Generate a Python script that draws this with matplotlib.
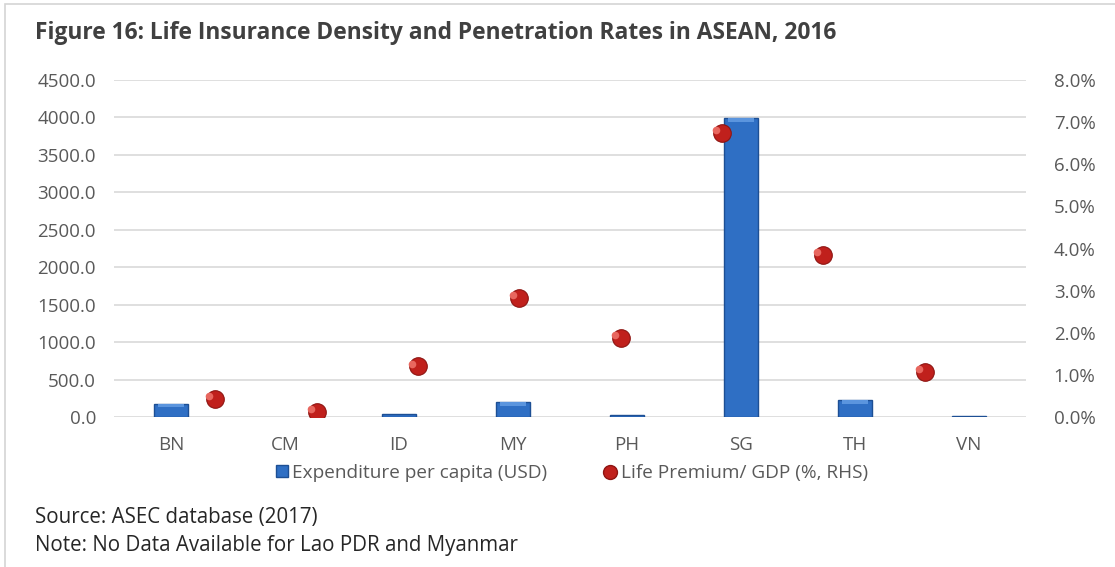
import matplotlib.pyplot as plt
import matplotlib.patches as mpatches
from matplotlib.lines import Line2D
import numpy as np

plt.rcParams['font.family'] = ['Open Sans', 'DejaVu Sans']

countries = ['BN', 'CM', 'ID', 'MY', 'PH', 'SG', 'TH', 'VN']
expenditure = [175, 0, 45, 200, 30, 3995, 225, 10]          # USD per capita
premium_gdp = [0.43, 0.12, 1.21, 2.83, 1.88, 6.75, 3.85, 1.07]  # % of GDP

left_ticks = np.arange(0, 4501, 500)
right_ticks = np.arange(0, 8.01, 1.0)

fig = plt.figure(figsize=(11.15, 5.67), dpi=100)
fig.patch.set_facecolor('white')

# light frame around the figure box
fig.add_artist(mpatches.Rectangle((5 / 1115, -0.1), 1.2, 1.1 - 4 / 567,
                                  transform=fig.transFigure, fill=False,
                                  edgecolor='#d4d4d4', linewidth=1.2))

ax = fig.add_axes([114 / 1115, 1 - 417 / 567, 912 / 1115, 337 / 567])
x = np.arange(len(countries))
edge_w = [1.0 if v > 0 else 0 for v in expenditure]
ax.bar(x, expenditure, width=0.29, color='#2f6fc4',
       edgecolor='#1d4f94', linewidth=edge_w, zorder=3)
# lighter top band on the bars
for xi, v in zip(x, expenditure):
    if v > 0:
        band = min(v * 0.25, 60)
        ax.bar(xi, band, bottom=v - band, width=0.22, color='#5b95de',
               linewidth=0, zorder=4)

ax.set_xlim(-0.5, len(countries) - 0.5)
ax.set_ylim(0, 4500)
ax.set_yticks(left_ticks)
ax.set_yticklabels([f'{t:.1f}' for t in left_ticks])
ax.set_xticks(x)
ax.set_xticklabels(countries)
ax.grid(axis='y', color='#d9d9d9', linewidth=1.2, zorder=0)
ax.set_axisbelow(True)
for s in ax.spines.values():
    s.set_visible(False)
ax.tick_params(axis='both', length=0, labelsize=13.5, colors='#595959')
ax.tick_params(axis='y', pad=13)
ax.tick_params(axis='x', pad=14)

# premium/GDP points on their own x scale, right-hand y axis
axr = ax.twinx()
axr.set_ylim(0, 8)
axr.set_yticks(right_ticks)
axr.set_yticklabels([f'{t:.1f}%' for t in right_ticks])
axr.tick_params(axis='y', length=0, labelsize=13.5, colors='#595959', pad=20)
for s in axr.spines.values():
    s.set_visible(False)
ax2 = axr.twiny()
ax2.set_xlim(0, 9)
ax2.set_xticks([])
for s in ax2.spines.values():
    s.set_visible(False)
xp = np.arange(1, len(countries) + 1)
ax2.scatter(xp, premium_gdp, s=160, color='#c0201c', edgecolor='#8e1512',
            linewidth=0.8, zorder=5)
ax2.scatter(xp - 0.06, np.array(premium_gdp) + 0.06, s=30, color='#e8675f',
            linewidth=0, zorder=6)

handles = [mpatches.Patch(facecolor='#2f6fc4', edgecolor='#1d4f94'),
           Line2D([], [], marker='o', linestyle='none', markersize=10,
                  markerfacecolor='#c0201c', markeredgecolor='#8e1512')]
fig.legend(handles, ['Expenditure per capita (USD)', 'Life Premium/ GDP (%, RHS)'],
           loc='center', bbox_to_anchor=(572 / 1115, 1 - 473 / 567), ncol=2,
           frameon=False, fontsize=13.7, labelcolor='#595959',
           handlelength=0.6, handleheight=0.6, handletextpad=0.25,
           columnspacing=3.0)

fig.text(35 / 1115, 1 - 33 / 567,
         'Figure 16: Life Insurance Density and Penetration Rates in ASEAN, 2016',
         fontsize=16.4, fontweight='bold', color='#404040', va='center')
fig.text(35 / 1115, 1 - 518 / 567, 'Source: ASEC database (2017)',
         fontsize=14.8, color='#262626', va='center')
fig.text(35 / 1115, 1 - 545 / 567, 'Note: No Data Available for Lao PDR and Myanmar',
         fontsize=14.8, color='#262626', va='center')

fig.savefig('out.png', dpi=100)
